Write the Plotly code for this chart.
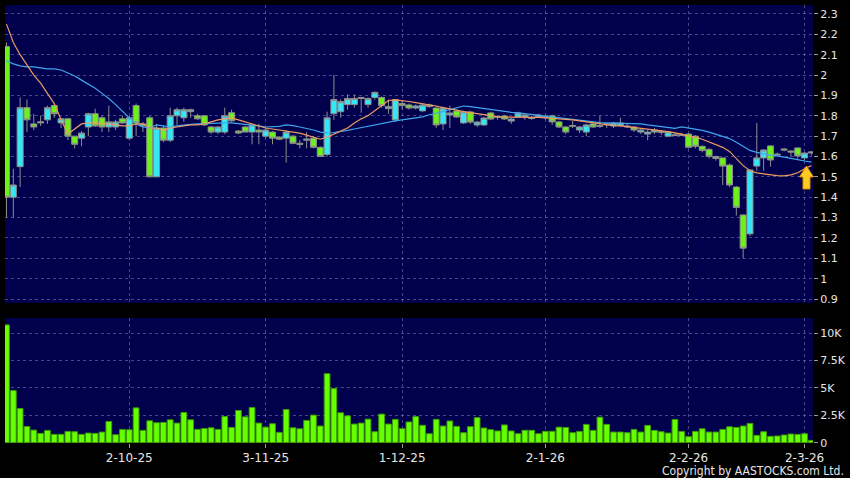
import plotly.graph_objects as go

# ---- trading days (categories) ----
MONTH_DAYS = [
    ("2025-09", [5, 8, 9, 10, 11, 12, 15, 16, 17, 18, 19, 22, 23, 24, 25, 26, 29, 30]),
    ("2025-10", [2, 3, 6, 8, 9, 10, 13, 14, 15, 16, 17, 20, 21, 22, 23, 24, 27, 28, 30, 31]),
    ("2025-11", [3, 4, 5, 6, 7, 10, 11, 12, 13, 14, 17, 18, 19, 20, 21, 24, 25, 26, 27, 28]),
    ("2025-12", [1, 2, 3, 4, 5, 8, 9, 10, 11, 12, 15, 16, 17, 18, 19, 22, 23, 24, 29, 30, 31]),
    ("2026-01", [2, 5, 6, 7, 8, 9, 12, 13, 14, 15, 16, 19, 20, 21, 22, 23, 26, 27, 28, 29, 30]),
    ("2026-02", [2, 3, 4, 5, 6, 9, 10, 11, 12, 13, 16, 20, 23, 24, 25, 26, 27]),
    ("2026-03", [2, 3]),
]
DATES = [f"{m}-{d:02d}" for m, days in MONTH_DAYS for d in days]

TICK_DATES = ["2025-10-02", "2025-11-03", "2025-12-01", "2026-01-02", "2026-02-02", "2026-03-02"]
TICK_LABELS = ["2-10-25", "3-11-25", "1-12-25", "2-1-26", "2-2-26", "2-3-26"]

PRICE_TICKS = [0.9, 1.0, 1.1, 1.2, 1.3, 1.4, 1.5, 1.6, 1.7, 1.8, 1.9, 2.0, 2.1, 2.2, 2.3]
PRICE_TICK_LABELS = ["0.9", "1", "1.1", "1.2", "1.3", "1.4", "1.5", "1.6", "1.7", "1.8",
                     "1.9", "2", "2.1", "2.2", "2.3"]
VOL_TICKS = [0, 2500, 5000, 7500, 10000]
VOL_TICK_LABELS = ["0", "2.5K", "5K", "7.5K", "10K"]

# ---- OHLC ----
OPEN = [2.14, 1.40, 1.55, 1.84, 1.76, 1.765, 1.78, 1.85, 1.765, 1.785,
        1.70, 1.69, 1.745, 1.81, 1.79, 1.745, 1.745, 1.785, 1.69, 1.85,
        1.75, 1.79, 1.50, 1.74, 1.68, 1.80, 1.79, 1.82, 1.80, 1.80,
        1.745, 1.72, 1.72, 1.815, 1.725, 1.745, 1.72, 1.73, 1.70, 1.72,
        1.695, 1.69, 1.70, 1.665, 1.68, 1.69, 1.645, 1.61, 1.81, 1.82,
        1.855, 1.855, 1.885, 1.855, 1.89, 1.89, 1.835, 1.78, 1.86, 1.853,
        1.838, 1.824, 1.853, 1.838, 1.76, 1.804, 1.824, 1.765, 1.819, 1.755,
        1.755, 1.814, 1.792, 1.799, 1.774, 1.794, 1.794, 1.791, 1.794, 1.797,
        1.80, 1.77, 1.745, 1.748, 1.73, 1.72, 1.76, 1.748, 1.755, 1.75,
        1.752, 1.75, 1.745, 1.72, 1.71, 1.72, 1.718, 1.70, 1.707, 1.707,
        1.71, 1.70, 1.65, 1.635, 1.60, 1.593, 1.558, 1.45, 1.313, 1.22,
        1.553, 1.593, 1.652, 1.612, 1.637, 1.627, 1.642, 1.593, 1.617]
HIGH = [2.16, 1.54, 1.89, 1.88, 1.81, 1.80, 1.85, 1.86, 1.79, 1.79,
        1.70, 1.725, 1.815, 1.835, 1.80, 1.85, 1.78, 1.80, 1.80, 1.86,
        1.77, 1.80, 1.76, 1.75, 1.84, 1.84, 1.84, 1.835, 1.81, 1.80,
        1.75, 1.75, 1.84, 1.83, 1.73, 1.75, 1.76, 1.76, 1.74, 1.725,
        1.70, 1.73, 1.705, 1.68, 1.72, 1.70, 1.65, 1.82, 2.00, 1.88,
        1.905, 1.905, 1.89, 1.89, 1.92, 1.895, 1.88, 1.88, 1.875, 1.86,
        1.855, 1.86, 1.86, 1.845, 1.845, 1.85, 1.83, 1.825, 1.825, 1.775,
        1.795, 1.82, 1.80, 1.805, 1.79, 1.82, 1.81, 1.80, 1.81, 1.80,
        1.805, 1.775, 1.75, 1.775, 1.75, 1.76, 1.765, 1.80, 1.765, 1.77,
        1.79, 1.76, 1.75, 1.735, 1.73, 1.74, 1.73, 1.725, 1.715, 1.715,
        1.715, 1.705, 1.655, 1.64, 1.605, 1.595, 1.565, 1.455, 1.315, 1.535,
        1.765, 1.635, 1.655, 1.62, 1.642, 1.63, 1.645, 1.62, 1.625]
LOW = [1.30, 1.30, 1.45, 1.72, 1.73, 1.75, 1.76, 1.79, 1.74, 1.68,
       1.64, 1.65, 1.70, 1.745, 1.72, 1.72, 1.73, 1.76, 1.68, 1.70,
       1.72, 1.50, 1.50, 1.67, 1.67, 1.755, 1.77, 1.79, 1.78, 1.75,
       1.71, 1.71, 1.71, 1.77, 1.71, 1.72, 1.66, 1.66, 1.69, 1.66,
       1.68, 1.57, 1.66, 1.64, 1.64, 1.64, 1.60, 1.60, 1.78, 1.79,
       1.83, 1.84, 1.815, 1.84, 1.88, 1.84, 1.81, 1.77, 1.83, 1.83,
       1.83, 1.82, 1.84, 1.74, 1.73, 1.74, 1.79, 1.76, 1.76, 1.745,
       1.75, 1.78, 1.78, 1.78, 1.76, 1.79, 1.78, 1.78, 1.79, 1.78,
       1.755, 1.74, 1.71, 1.74, 1.715, 1.70, 1.74, 1.74, 1.74, 1.74,
       1.745, 1.74, 1.72, 1.71, 1.68, 1.71, 1.705, 1.695, 1.70, 1.70,
       1.64, 1.64, 1.62, 1.59, 1.58, 1.46, 1.45, 1.31, 1.10, 1.21,
       1.53, 1.53, 1.55, 1.60, 1.625, 1.60, 1.59, 1.58, 1.605]
CLOSE = [1.40, 1.46, 1.84, 1.78, 1.745, 1.77, 1.84, 1.81, 1.785, 1.70,
         1.66, 1.715, 1.81, 1.75, 1.745, 1.77, 1.77, 1.765, 1.79, 1.765,
         1.76, 1.50, 1.74, 1.68, 1.80, 1.83, 1.83, 1.83, 1.785, 1.755,
         1.72, 1.745, 1.80, 1.775, 1.715, 1.72, 1.755, 1.72, 1.73, 1.69,
         1.685, 1.72, 1.665, 1.66, 1.685, 1.645, 1.60, 1.79, 1.88, 1.87,
         1.885, 1.885, 1.89, 1.885, 1.915, 1.85, 1.845, 1.88, 1.85, 1.838,
         1.848, 1.853, 1.845, 1.755, 1.838, 1.814, 1.794, 1.819, 1.769, 1.769,
         1.789, 1.784, 1.796, 1.784, 1.784, 1.814, 1.804, 1.787, 1.804, 1.793,
         1.77, 1.745, 1.72, 1.752, 1.745, 1.755, 1.745, 1.752, 1.76, 1.765,
         1.765, 1.746, 1.73, 1.73, 1.72, 1.73, 1.722, 1.72, 1.703, 1.703,
         1.645, 1.65, 1.63, 1.60, 1.59, 1.553, 1.46, 1.35, 1.15, 1.534,
         1.593, 1.632, 1.583, 1.608, 1.632, 1.622, 1.603, 1.617, 1.622]

# ---- moving averages ----
MA_SHORT = [2.25, 2.16, 2.10, 2.05, 2.00, 1.96, 1.91, 1.86, 1.78, 1.71,
            1.735, 1.76, 1.765, 1.765, 1.76, 1.76, 1.755, 1.75, 1.75, 1.76,
            1.76, 1.74, 1.74, 1.73, 1.74, 1.745, 1.75, 1.755, 1.755, 1.76,
            1.77, 1.78, 1.785, 1.79, 1.78, 1.77, 1.76, 1.75, 1.74, 1.735,
            1.73, 1.725, 1.72, 1.715, 1.705, 1.695, 1.685, 1.695, 1.71, 1.725,
            1.74, 1.765, 1.785, 1.80, 1.825, 1.85, 1.875, 1.878, 1.875, 1.87,
            1.865, 1.86, 1.855, 1.848, 1.84, 1.835, 1.828, 1.82, 1.815, 1.81,
            1.804, 1.80, 1.796, 1.794, 1.794, 1.794, 1.794, 1.793, 1.792, 1.79,
            1.788, 1.785, 1.782, 1.78, 1.775, 1.77, 1.765, 1.76, 1.755, 1.752,
            1.75, 1.746, 1.742, 1.74, 1.735, 1.73, 1.726, 1.722, 1.716, 1.71,
            1.70, 1.695, 1.685, 1.672, 1.66, 1.645, 1.625, 1.59, 1.555, 1.53,
            1.52, 1.515, 1.51, 1.506, 1.505, 1.51, 1.52, 1.54, 1.555]
MA_LONG = [2.07, 2.055, 2.045, 2.04, 2.04, 2.035, 2.03, 2.03, 2.025, 2.01,
           1.995, 1.975, 1.955, 1.935, 1.91, 1.885, 1.855, 1.82, 1.79, 1.76,
           1.745, 1.74, 1.755, 1.75, 1.745, 1.75, 1.755, 1.758, 1.76, 1.762,
           1.762, 1.764, 1.765, 1.765, 1.762, 1.758, 1.755, 1.75, 1.745, 1.745,
           1.748, 1.755, 1.752, 1.745, 1.738, 1.73, 1.72, 1.716, 1.718, 1.722,
           1.728, 1.735, 1.742, 1.748, 1.755, 1.762, 1.77, 1.775, 1.78, 1.785,
           1.79, 1.795, 1.805, 1.812, 1.82, 1.83, 1.84, 1.848, 1.845, 1.84,
           1.836, 1.83, 1.825, 1.82, 1.817, 1.814, 1.81, 1.805, 1.80, 1.797,
           1.795, 1.79, 1.785, 1.78, 1.777, 1.773, 1.77, 1.766, 1.765, 1.764,
           1.763, 1.762, 1.76, 1.76, 1.755, 1.75, 1.746, 1.742, 1.738, 1.745,
           1.74, 1.735, 1.728, 1.72, 1.71, 1.70, 1.688, 1.67, 1.65, 1.63,
           1.62, 1.612, 1.607, 1.603, 1.598, 1.592, 1.585, 1.578, 1.572]

# ---- volume ----
VOLUME = [10760, 4760, 3120, 1480, 1150, 850, 1120, 760, 760, 1030,
          1000, 760, 880, 850, 970, 1940, 730, 1210, 1180, 3180,
          1120, 2000, 1820, 1850, 2090, 1790, 2760, 2090, 1210, 1300,
          1360, 1210, 2390, 1390, 2940, 2360, 3210, 1790, 1420, 1730,
          940, 3030, 1360, 1270, 2030, 2520, 1520, 6300, 4940, 2730,
          2450, 1700, 1790, 2150, 1000, 2610, 1700, 2130, 1280, 1890,
          2380, 1590, 820, 2130, 1520, 1980, 1490, 910, 1460, 2290,
          1340, 1190, 1070, 1620, 1070, 820, 1130, 1130, 820, 1040,
          1040, 1420, 1390, 910, 1030, 1670, 1120, 2330, 1670, 970,
          970, 910, 1210, 970, 1580, 1120, 1000, 880, 2120, 1030,
          550, 1030, 1270, 970, 970, 1210, 1450, 1390, 1520, 1760,
          670, 1000, 580, 610, 700, 790, 760, 820, 210]

# ---- styling ----
BG = "#000000"
PLOT_BG = "#00004C"
GREEN = "#6CF21A"
CYAN = "#35E6F5"
EDGE = "#8E8E8E"
GRID = "rgba(140,140,185,0.5)"
TXT = "#E6E6E6"
FONT = "DejaVu Sans"
NARROW_FONT = "Liberation Sans Narrow, DejaVu Sans Condensed, DejaVu Sans"

W, H = 850, 478
ML, MR, MT, MB = 5, 37, 5, 35

fig = go.Figure()

fig.add_trace(go.Candlestick(
    x=DATES, open=OPEN, high=HIGH, low=LOW, close=CLOSE,
    xaxis="x", yaxis="y",
    increasing=dict(fillcolor=CYAN, line=dict(color=EDGE, width=1)),
    decreasing=dict(fillcolor=GREEN, line=dict(color=EDGE, width=1)),
    whiskerwidth=0, showlegend=False, hoverinfo="skip",
))
fig.add_trace(go.Scatter(
    x=DATES, y=MA_LONG, mode="lines", xaxis="x", yaxis="y",
    line=dict(color="#3FA6EE", width=1.2), showlegend=False, hoverinfo="skip",
))
fig.add_trace(go.Scatter(
    x=DATES, y=MA_SHORT, mode="lines", xaxis="x", yaxis="y",
    line=dict(color="#EE9A62", width=1.2), showlegend=False, hoverinfo="skip",
))
fig.add_trace(go.Bar(
    x=DATES, y=VOLUME, xaxis="x2", yaxis="y2",
    marker=dict(color="#66FF00", line=dict(color="#3E9A06", width=1)),
    showlegend=False, hoverinfo="skip",
))

plot_h = H - MT - MB
price_bottom_px = 303
vol_top_px = 318
y_dom_price = [(H - MB - price_bottom_px) / plot_h, 1.0]
y_dom_vol = [0.0, (H - MB - vol_top_px) / plot_h]

xcommon = dict(
    type="category", categoryorder="array", categoryarray=DATES,
    range=[-0.22, len(DATES) - 0.76],
    tickmode="array", tickvals=TICK_DATES, ticktext=TICK_LABELS,
    showgrid=True, gridcolor=GRID, griddash="3px,3px", gridwidth=1,
    zeroline=False, showline=False, fixedrange=True, automargin=False,
)
ycommon = dict(
    side="right", showgrid=True, gridcolor=GRID, griddash="3px,3px", zeroline=False,
    ticks="outside", ticklen=4, tickcolor="#9A9A9A", tickmode="array",
    tickfont=dict(family=FONT, size=11, color=TXT), fixedrange=True, automargin=False,
)

fig.update_layout(
    width=W, height=H,
    margin=dict(l=ML, r=MR, t=MT, b=MB, autoexpand=False),
    paper_bgcolor=BG, plot_bgcolor=PLOT_BG,
    font=dict(family=FONT, color=TXT, size=12),
    boxgap=0.12, boxgroupgap=0.0, bargap=0.16,
    xaxis=dict(xcommon, domain=[0, 1], anchor="y", showticklabels=False, ticks="",
               rangeslider=dict(visible=False)),
    xaxis2=dict(xcommon, domain=[0, 1], anchor="y2", showticklabels=True,
                ticks="outside", ticklen=4, tickcolor="#9A9A9A",
                tickfont=dict(family=FONT, size=12, color=TXT)),
    yaxis=dict(ycommon, domain=y_dom_price, anchor="x", range=[0.8806, 2.344],
               tickvals=PRICE_TICKS, ticktext=PRICE_TICK_LABELS),
    yaxis2=dict(ycommon, domain=y_dom_vol, anchor="x2", range=[-30, 11390],
                tickvals=VOL_TICKS, ticktext=VOL_TICK_LABELS),
)

# copyright line
fig.add_annotation(
    text="Copyright by AASTOCKS.com Ltd.", xref="paper", yref="paper",
    x=(846 - ML) / (W - ML - MR), y=(H - MB - 471) / plot_h,
    xanchor="right", yanchor="middle", showarrow=False,
    font=dict(family=NARROW_FONT, size=12, color=TXT),
)

# gold "last" arrow marker (decoration, in pixel-derived paper coords)
def px(xp, yp):
    return (xp - ML) / (W - ML - MR), (H - MB - yp) / plot_h

pts = [(806.5, 166), (813.5, 177), (810, 177), (810, 189), (803, 189), (803, 177), (799.5, 177)]
path = "M " + " L ".join(f"{px(a, b)[0]:.5f},{px(a, b)[1]:.5f}" for a, b in pts) + " Z"
fig.add_shape(type="path", path=path, xref="paper", yref="paper",
              fillcolor="#FFCC22", line=dict(color="#E08A00", width=1), layer="above")

# remove the browser's default page margin so the figure sits at (0, 0)
fig.write_html(
    "out.html",
    config={"displayModeBar": False, "staticPlot": True},
    post_script="document.body.style.margin='0';document.body.style.background='#000';"
                "document.body.style.overflow='hidden';",
)
